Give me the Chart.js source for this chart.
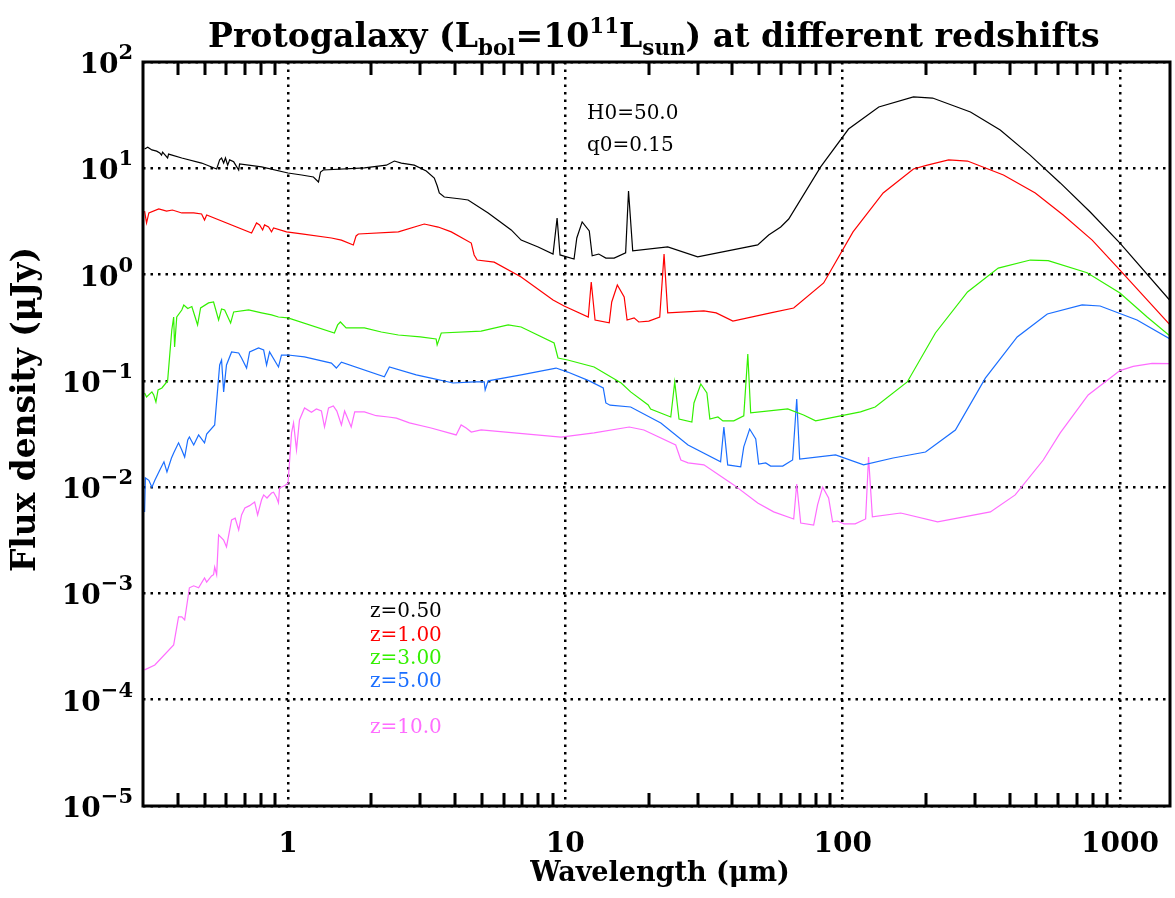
<!DOCTYPE html>
<html>
<head>
<meta charset="utf-8">
<script src="https://cdn.jsdelivr.net/npm/chart.js@4.4.0/dist/chart.umd.min.js"></script>
<style>
  html, body { margin: 0; background: #fff; }
  #wrap { width: 1175px; height: 898px; position: relative; }
</style>
</head>
<body>
<div id="wrap"><canvas id="sed"></canvas></div>
<script>
// axis ranges (micron, microJansky)
const xMin = 0.305, xMax = 1515;
const yMin = 1e-5, yMax = 100;
const xDecades = [1, 10, 100, 1000];
const xTickLabels = ['1', '10', '100', '1000'];
const xMinorTicks = [0.4, 0.5, 0.6, 0.7, 0.8, 0.9, 2, 3, 4, 5, 6, 7, 8, 9, 20, 30, 40, 50, 60, 70, 80, 90, 200, 300, 400, 500, 600, 700, 800, 900];
const yExponents = [2, 1, 0, -1, -2, -3, -4, -5];

// z = 0.50
const z050Wave = [0.304, 0.312, 0.323, 0.336, 0.345, 0.350, 0.353, 0.368, 0.371, 0.414, 0.488, 0.553, 0.567, 0.576, 0.586, 0.595, 0.606, 0.616, 0.637, 0.664, 0.669, 0.803, 1.0, 1.12, 1.235, 1.288, 1.31, 1.34, 1.886, 2.263, 2.418, 2.563, 2.853, 3.152, 3.369, 3.453, 3.512, 3.66, 4.21, 4.46, 5.27, 6.38, 6.93, 7.98, 9.03, 9.34, 9.57, 10.75, 11.0, 11.5, 12.2, 12.5, 13.2, 14.0, 15.0, 16.5, 16.9, 17.5, 23.4, 30.0, 49.4, 54.1, 59.8, 63.9, 83.3, 105, 135, 180, 211, 289, 370, 474, 609, 781, 1000, 1515];
const z050Flux = [15.2, 15.8, 14.9, 14.5, 13.9, 13.3, 14.2, 12.5, 13.6, 12.5, 11.2, 9.85, 12.0, 12.5, 11.2, 12.5, 10.7, 12.0, 11.5, 9.64, 11.0, 10.3, 9.03, 8.65, 8.28, 7.43, 9.23, 9.64, 10.07, 10.7, 11.7, 11.2, 10.7, 9.43, 8.1, 6.81, 5.86, 5.37, 5.14, 5.03, 3.8, 2.63, 2.11, 1.82, 1.56, 3.41, 1.53, 1.40, 2.21, 3.13, 2.57, 1.50, 1.56, 1.43, 1.43, 1.60, 6.11, 1.67, 1.82, 1.47, 1.90, 2.36, 2.8, 3.33, 10.3, 23.4, 37.7, 46.9, 45.8, 33.9, 22.9, 13.3, 7.28, 3.88, 1.98, 0.57];

// z = 1.00
const z100Wave = [0.304, 0.309, 0.315, 0.342, 0.365, 0.383, 0.414, 0.457, 0.488, 0.50, 0.509, 0.739, 0.770, 0.79, 0.81, 0.823, 0.851, 0.872, 0.887, 0.988, 1.12, 1.434, 1.558, 1.72, 1.76, 1.794, 2.50, 3.10, 3.48, 3.88, 4.58, 4.69, 4.81, 5.54, 6.93, 9.03, 9.90, 12.1, 12.4, 12.8, 14.4, 14.7, 15.4, 16.3, 16.7, 17.7, 18.4, 20.0, 21.9, 22.7, 23.4, 31.6, 35, 40.2, 55.0, 66.6, 85.4, 109, 140, 180, 202, 241, 282, 380, 495, 624, 794, 1000, 1515];
const z100Flux = [3.96, 3.06, 3.8, 4.14, 3.96, 4.05, 3.8, 3.8, 3.72, 3.26, 3.64, 2.46, 3.06, 2.93, 2.63, 2.93, 2.8, 2.52, 2.74, 2.52, 2.41, 2.21, 2.11, 1.90, 2.31, 2.41, 2.52, 2.99, 2.8, 2.52, 1.98, 1.53, 1.37, 1.31, 0.949, 0.577, 0.507, 0.399, 0.851, 0.374, 0.351, 0.552, 0.798, 0.615, 0.374, 0.391, 0.358, 0.365, 0.399, 1.56, 0.436, 0.455, 0.436, 0.365, 0.436, 0.485, 0.834, 2.52, 5.86, 9.85, 10.7, 12.0, 11.7, 8.65, 5.86, 3.64, 2.11, 1.10, 0.336];

// z = 3.00
const z300Wave = [0.304, 0.309, 0.323, 0.328, 0.334, 0.34, 0.351, 0.368, 0.381, 0.387, 0.39, 0.397, 0.414, 0.421, 0.435, 0.45, 0.46, 0.472, 0.484, 0.517, 0.539, 0.562, 0.576, 0.591, 0.621, 0.637, 0.721, 0.803, 0.872, 0.924, 1.0, 1.47, 1.51, 1.545, 1.62, 1.886, 2.17, 2.50, 3.0, 3.42, 3.45, 3.57, 4.97, 6.22, 6.93, 9.11, 9.41, 10.2, 12.7, 15.9, 17.2, 19.9, 20.3, 24.0, 24.8, 25.7, 28.6, 29.1, 30.8, 32.4, 33.2, 35.5, 37.0, 40.5, 44.0, 45.5, 46.6, 63.4, 72.3, 79.9, 116, 131, 171, 216, 282, 364, 475, 551, 761, 1000, 1253, 1515];
const z300Flux = [0.0769, 0.0706, 0.0787, 0.0736, 0.0634, 0.082, 0.0857, 0.0998, 0.301, 0.399, 0.208, 0.399, 0.464, 0.518, 0.48, 0.5, 0.417, 0.336, 0.485, 0.541, 0.552, 0.374, 0.475, 0.465, 0.351, 0.445, 0.465, 0.436, 0.417, 0.399, 0.391, 0.282, 0.336, 0.358, 0.315, 0.315, 0.288, 0.270, 0.259, 0.248, 0.218, 0.282, 0.294, 0.336, 0.321, 0.227, 0.164, 0.157, 0.135, 0.0955, 0.0787, 0.0593, 0.0544, 0.0457, 0.0977, 0.0438, 0.041, 0.062, 0.0935, 0.0769, 0.0438, 0.0457, 0.042, 0.042, 0.0468, 0.179, 0.0499, 0.0544, 0.0478, 0.042, 0.051, 0.0568, 0.0977, 0.282, 0.686, 1.15, 1.37, 1.35, 1.04, 0.671, 0.399, 0.264];

// z = 5.00
const z500Wave = [0.304, 0.306, 0.315, 0.323, 0.331, 0.345, 0.357, 0.366, 0.38, 0.387, 0.403, 0.414, 0.424, 0.435, 0.441, 0.457, 0.476, 0.50, 0.509, 0.544, 0.567, 0.576, 0.586, 0.60, 0.626, 0.664, 0.68, 0.709, 0.727, 0.783, 0.817, 0.837, 0.858, 0.924, 0.947, 1.0, 1.146, 1.434, 1.494, 1.558, 2.226, 2.32, 2.90, 3.28, 3.94, 4.69, 5.10, 5.14, 5.27, 6.93, 9.26, 10.2, 12.2, 13.7, 14.0, 14.5, 17.2, 22.1, 27.7, 36.3, 37.3, 38.5, 42.9, 44.0, 46.2, 48.6, 49.8, 52.8, 55.0, 60.8, 66.0, 68.3, 70.0, 94.3, 119, 152, 199, 255, 327, 426, 547, 730, 848, 1152, 1515];
const z500Flux = [0.00585, 0.0122, 0.0116, 0.01, 0.0116, 0.0145, 0.0173, 0.0139, 0.0188, 0.021, 0.0261, 0.0224, 0.0192, 0.0278, 0.0296, 0.0249, 0.031, 0.0261, 0.0316, 0.0385, 0.141, 0.157, 0.0787, 0.141, 0.187, 0.183, 0.164, 0.132, 0.187, 0.204, 0.195, 0.141, 0.187, 0.135, 0.175, 0.175, 0.168, 0.147, 0.132, 0.15, 0.109, 0.135, 0.114, 0.106, 0.0955, 0.0977, 0.0977, 0.082, 0.1, 0.114, 0.132, 0.121, 0.1, 0.0857, 0.062, 0.059, 0.0568, 0.0402, 0.0249, 0.0173, 0.0368, 0.0162, 0.0155, 0.0239, 0.0352, 0.0284, 0.0165, 0.0169, 0.0158, 0.0158, 0.018, 0.0676, 0.0184, 0.0201, 0.0162, 0.0188, 0.0214, 0.0345, 0.106, 0.259, 0.426, 0.518, 0.506, 0.374, 0.248];

// z = 10.0
const z1000Wave = [0.304, 0.331, 0.387, 0.403, 0.414, 0.424, 0.441, 0.457, 0.476, 0.50, 0.509, 0.53, 0.539, 0.544, 0.553, 0.562, 0.586, 0.60, 0.626, 0.645, 0.664, 0.68, 0.699, 0.727, 0.758, 0.777, 0.803, 0.817, 0.84, 0.872, 0.887, 0.909, 0.924, 0.932, 0.971, 1.0, 1.03, 1.047, 1.073, 1.1, 1.147, 1.215, 1.266, 1.32, 1.354, 1.4, 1.457, 1.5, 1.558, 1.6, 1.69, 1.74, 1.886, 2.08, 2.30, 2.46, 2.74, 3.28, 4.04, 4.21, 4.39, 4.58, 4.97, 9.65, 12.7, 17.0, 19.2, 25.0, 26.1, 27.7, 31.6, 40.5, 49.4, 56.4, 66.6, 68.3, 70.6, 78.6, 81.2, 84.7, 89.0, 92.0, 95.9, 101, 111, 121, 124, 128, 162, 220, 341, 419, 529, 609, 768, 1000, 1116, 1306, 1515];
const z1000Flux = [0.000191, 0.000212, 0.000328, 0.000601, 0.000601, 0.000564, 0.00113, 0.00118, 0.00113, 0.0014, 0.00128, 0.00146, 0.0015, 0.00177, 0.0015, 0.00355, 0.00318, 0.00274, 0.00491, 0.0051, 0.00395, 0.00547, 0.00637, 0.0067, 0.00726, 0.00547, 0.0076, 0.00845, 0.0079, 0.0088, 0.00897, 0.008, 0.0071, 0.0098, 0.0103, 0.0109, 0.0324, 0.0402, 0.0224, 0.0429, 0.0556, 0.0507, 0.0544, 0.052, 0.0368, 0.0556, 0.0581, 0.052, 0.0385, 0.052, 0.0368, 0.051, 0.051, 0.047, 0.0457, 0.0446, 0.0402, 0.036, 0.031, 0.0385, 0.036, 0.033, 0.0345, 0.0296, 0.0324, 0.0368, 0.0345, 0.0249, 0.018, 0.0169, 0.0162, 0.0105, 0.0071, 0.00585, 0.00502, 0.0107, 0.0046, 0.0044, 0.00681, 0.01, 0.00791, 0.00471, 0.0048, 0.00451, 0.00451, 0.00502, 0.0192, 0.00525, 0.00571, 0.00471, 0.00585, 0.00845, 0.018, 0.0324, 0.0736, 0.125, 0.137, 0.146, 0.145];

const redshiftLabels = ['z=0.50', 'z=1.00', 'z=3.00', 'z=5.00', 'z=10.0'];
const seriesColors = ['#000000', '#ff0000', '#33f000', '#1a6eff', '#ff6cff'];
const waves = [z050Wave, z100Wave, z300Wave, z500Wave, z1000Wave];
const fluxes = [z050Flux, z100Flux, z300Flux, z500Flux, z1000Flux];

const serif = '"DejaVu Serif", "Liberation Serif", serif';

function toPoints(w, f) {
    const n = Math.min(w.length, f.length);
    const pts = [];
    for (let i = 0; i < n; i++) pts.push({ x: w[i], y: f[i] });
    return pts;
}

// draw a run of text pieces (sub/superscripts) starting at x, baseline y
function richWidth(ctx, parts, weight) {
    let w = 0;
    parts.forEach(p => {
        ctx.font = `${weight} ${p.size}px ${serif}`;
        w += ctx.measureText(p.t).width;
    });
    return w;
}
function drawRich(ctx, parts, x, y, weight) {
    parts.forEach(p => {
        ctx.font = `${weight} ${p.size}px ${serif}`;
        ctx.fillText(p.t, x, y + (p.dy || 0));
        x += ctx.measureText(p.t).width;
    });
}
// scale font sizes so the whole run is a given width
function fitParts(ctx, parts, target, weight) {
    const k = target / richWidth(ctx, parts, weight);
    return parts.map(p => ({ t: p.t, size: p.size * k, dy: (p.dy || 0) * k }));
}

// x pixel of a wavelength on the chart's x scale
function xPixel(chart, v) {
    const a = chart.chartArea;
    let px = chart.scales.x.getPixelForValue(v);
    if (!isFinite(px)) {
        const t = (Math.log10(v) - Math.log10(xMin)) / (Math.log10(xMax) - Math.log10(xMin));
        px = a.left + t * (a.right - a.left);
    }
    return px;
}

const frameAndLabels = {
    id: 'frameAndLabels',
    afterDatasetsDraw(chart) {
        const ctx = chart.ctx;
        const a = chart.chartArea;
        ctx.save();
        ctx.setLineDash([]);
        ctx.fillStyle = '#000000';
        xMinorTicks.forEach(v => {
            const px = Math.round(xPixel(chart, v));
            ctx.fillRect(px - 1.5, a.bottom - 13, 3, 13);
            ctx.fillRect(px - 1.5, a.top, 3, 13);
        });
        ctx.strokeStyle = '#000000';
        ctx.lineWidth = 3;
        ctx.strokeRect(a.left, a.top, a.right - a.left, a.bottom - a.top);
        ctx.restore();
    },
    afterDraw(chart) {
        const ctx = chart.ctx;
        const ys = chart.scales.y;
        ctx.save();
        ctx.fillStyle = '#000';

        // y tick labels 10^n
        ctx.textBaseline = 'alphabetic';
        ctx.textAlign = 'left';
        yExponents.forEach(e => {
            const py = ys.getPixelForValue(Math.pow(10, e));
            const sup = e < 0 ? '\u2212' + (-e) : String(e);
            const parts = [{ t: '10', size: 28 }, { t: sup, size: 21, dy: -14 }];
            const w = richWidth(ctx, parts, 'bold');
            drawRich(ctx, parts, 133 - w, py + 11, 'bold');
        });

        // x tick labels
        ctx.textAlign = 'center';
        ctx.font = `bold 28px ${serif}`;
        xDecades.forEach((v, i) => {
            ctx.fillText(xTickLabels[i], xPixel(chart, v), 852);
        });

        // x axis title
        ctx.font = `bold 27px ${serif}`;
        ctx.fillText('Wavelength (\u03bcm)', 660, 881);

        // y axis title
        ctx.save();
        ctx.translate(35, 410);
        ctx.rotate(-Math.PI / 2);
        ctx.textAlign = 'left';
        const ytitle = fitParts(ctx, [{ t: 'Flux density (\u03bcJy)', size: 28 }], 325, 'bold');
        drawRich(ctx, ytitle, -162, 0, 'bold');
        ctx.restore();

        // title
        ctx.textAlign = 'left';
        let title = [
            { t: 'Protogalaxy (L', size: 34 },
            { t: 'bol', size: 22, dy: 8 },
            { t: '=10', size: 34 },
            { t: '11', size: 22, dy: -14 },
            { t: 'L', size: 34 },
            { t: 'sun', size: 22, dy: 8 },
            { t: ') at different redshifts', size: 34 }
        ];
        title = fitParts(ctx, title, 892, 'bold');
        drawRich(ctx, title, 208, 47, 'bold');

        // cosmology note
        ctx.font = `20px ${serif}`;
        ctx.fillText('H0=50.0', 587, 119);
        ctx.fillText('q0=0.15', 587, 151);

        // redshift key
        const keyBase = [617, 641, 664, 687, 733];
        redshiftLabels.forEach((t, i) => {
            ctx.fillStyle = seriesColors[i];
            ctx.font = `20px ${serif}`;
            ctx.fillText(t, 370, keyBase[i]);
        });
        ctx.restore();
    }
};

const gridDash = [2.5, 5];

new Chart(document.getElementById('sed'), {
    type: 'line',
    data: {
        datasets: waves.map((w, i) => ({
            label: redshiftLabels[i],
            data: toPoints(w, fluxes[i]),
            borderColor: seriesColors[i],
            borderWidth: 1.2,
            pointRadius: 0,
            fill: false,
            tension: 0
        }))
    },
    options: {
        responsive: true,
        maintainAspectRatio: false,
        animation: false,
        layout: { padding: { left: 143, right: 5, top: 62, bottom: 92 } },
        plugins: { legend: { display: false }, tooltip: { enabled: false } },
        scales: {
            x: {
                type: 'logarithmic',
                min: xMin, max: xMax,
                afterBuildTicks: s => { s.ticks = xDecades.map(v => ({ value: v })); },
                afterFit: s => { s.height = 0; },
                ticks: { display: false },
                grid: { color: '#000', lineWidth: 2.5, drawTicks: false },
                border: { display: false, dash: gridDash }
            },
            y: {
                type: 'logarithmic',
                min: yMin, max: yMax,
                afterBuildTicks: s => { s.ticks = yExponents.map(e => ({ value: Math.pow(10, e) })); },
                afterFit: s => { s.width = 0; },
                ticks: { display: false },
                grid: { color: '#000', lineWidth: 2.5, drawTicks: false },
                border: { display: false, dash: gridDash }
            }
        }
    },
    plugins: [frameAndLabels]
});
</script>
</body>
</html>
